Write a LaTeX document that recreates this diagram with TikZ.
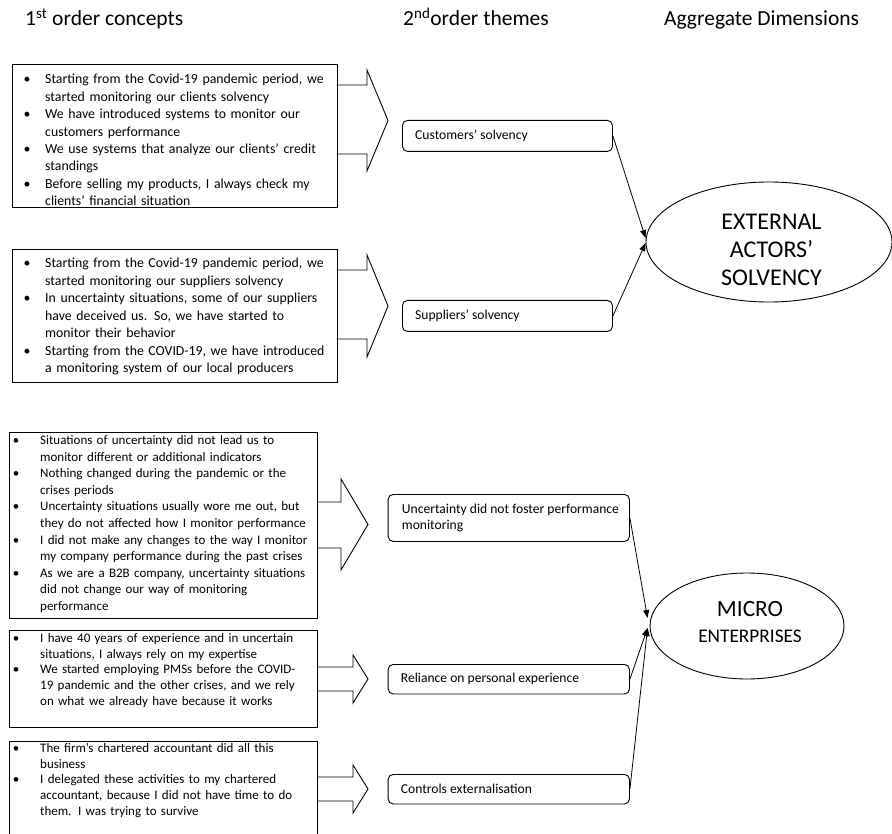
\documentclass[tikz,border=0pt]{standalone}
\usepackage{fontspec}
\setmainfont{Carlito}
\usetikzlibrary{shapes.geometric,arrows.meta,calc}
\newcommand\bulA{\makebox[21.5pt][l]{\textbullet}}
\newcommand\indA{\hspace*{21.5pt}}
\newcommand\bulB{\makebox[27.3pt][l]{\textbullet}}
\newcommand\indB{\hspace*{27.3pt}}
\begin{document}
\begin{tikzpicture}[x=1pt,y=-1pt,
  conbox/.style={draw,line width=0.9pt,rectangle,inner sep=0pt,anchor=north west},
  bigtext/.style={anchor=base west,inner sep=0pt,text width=330pt,align=left,font=\fontsize{13.8}{17.4}\selectfont},
  smalltext/.style={anchor=base west,inner sep=0pt,text width=330pt,align=left,font=\fontsize{13.0}{15.7}\selectfont},
  themebox/.style={draw,line width=0.9pt,rounded corners=5pt,inner sep=0pt,anchor=north west},
  themetext/.style={anchor=west,inner sep=0pt,align=left,font=\fontsize{13.6}{16}\selectfont},
  dimell/.style={draw,line width=0.9pt,ellipse,inner sep=0pt},
  blockarrow/.style={draw,line width=0.9pt,line join=miter},
  conn/.style={draw,line width=0.8pt,-{Triangle[length=8pt,width=6pt]}},
  heading/.style={anchor=base west,inner sep=0pt,font=\fontsize{21.5}{26}\selectfont}
]
\begin{scope}
\clip (0,0) rectangle (892,834);

% headings
\node[heading] (h1) at (25,26) {1\textsuperscript{st} order concepts};
\node[heading] (h2) at (403,26) {2\textsuperscript{nd}order themes};
\node[heading] (h3) at (664,26) {Aggregate Dimensions};

% first order concept boxes
\node[conbox,minimum width=324.4pt,minimum height=143pt] (c1) at (12.3,64.3) {};
\node[bigtext] (t1) at (23.5,84) {%
\bulA Starting from the Covid-19 pandemic period, we\\
\indA started monitoring our clients solvency\\
\bulA We have introduced systems to monitor our\\
\indA customers performance\\
\bulA We use systems that analyze our clients’ credit\\
\indA standings\\
\bulA Before selling my products, I always check my\\
\indA clients’ financial situation};

\node[conbox,minimum width=324.4pt,minimum height=132.4pt] (c2) at (12.3,249.3) {};
\node[bigtext,font=\fontsize{13.8}{17.5}\selectfont] (t2) at (23.5,268) {%
\bulA Starting from the Covid-19 pandemic period, we\\
\indA started monitoring our suppliers solvency\\
\bulA In uncertainty situations, some of our suppliers\\
\indA have deceived us. So, we have started to\\
\indA monitor their behavior\\
\bulA Starting from the COVID-19, we have introduced\\
\indA a monitoring system of our local producers};

\node[conbox,minimum width=308pt,minimum height=185.4pt] (c3) at (9,432.3) {};
\node[smalltext,font=\fontsize{13.0}{16.6}\selectfont] (t3) at (12.7,444.5) {%
\bulB Situations of uncertainty did not lead us to\\
\indB monitor different or additional indicators\\
\bulB Nothing changed during the pandemic or the\\
\indB crises periods\\
\bulB Uncertainty situations usually wore me out, but\\
\indB they do not affected how I monitor performance\\
\bulB I did not make any changes to the way I monitor\\
\indB my company performance during the past crises\\
\bulB As we are a B2B company, uncertainty situations\\
\indB did not change our way of monitoring\\
\indB performance};

\node[conbox,minimum width=308pt,minimum height=97pt] (c4) at (9,630) {};
\node[smalltext] (t4) at (12.7,642.5) {%
\bulB I have 40 years of experience and in uncertain\\
\indB situations, I always rely on my expertise\\
\bulB We started employing PMSs before the COVID-\\
\indB 19 pandemic and the other crises, and we rely\\
\indB on what we already have because it works};

\node[conbox,minimum width=308pt,minimum height=100pt] (c5) at (9,741) {};
\node[smalltext] (t5) at (12.7,752.5) {%
\bulB The firm’s chartered accountant did all this\\
\indB business\\
\bulB I delegated these activities to my chartered\\
\indB accountant, because I did not have time to do\\
\indB them. I was trying to survive};

% block arrows
\draw[blockarrow] (336.7,85) -- (367,85) -- (367,70) -- (388,120.5) -- (367,171) -- (367,154) -- (336.7,154);
\draw[blockarrow] (336.7,270) -- (367,270) -- (367,255) -- (388,306) -- (367,357) -- (367,339) -- (336.7,339);
\draw[blockarrow] (317,502) -- (341,502) -- (341,479) -- (368,524.5) -- (341,570) -- (341,548) -- (317,548);
\draw[blockarrow] (317,667) -- (353,667) -- (353,655) -- (368,679) -- (353,703) -- (353,691) -- (317,691);
\draw[blockarrow] (317,777) -- (353,777) -- (353,765) -- (368,789) -- (353,813) -- (353,801) -- (317,801);

% second order themes
\node[themebox,minimum width=210pt,minimum height=31pt] (cust) at (402,120) {};
\node[themetext] (custt) at ([xshift=13pt]cust.west) {Customers’ solvency};
\node[themebox,minimum width=210pt,minimum height=31pt] (supp) at (402,300) {};
\node[themetext] (suppt) at ([xshift=13pt]supp.west) {Suppliers’ solvency};
\node[themebox,minimum width=241.3pt,minimum height=47pt] (unc) at (387.7,494) {};
\node[themetext] (unct) at ([xshift=14pt]unc.west) {Uncertainty did not foster performance\\monitoring};
\node[themebox,minimum width=241.3pt,minimum height=29.5pt] (rel) at (387.7,664) {};
\node[themetext] (relt) at ([xshift=13pt]rel.west) {Reliance on personal experience};
\node[themebox,minimum width=241.3pt,minimum height=29.5pt] (ctl) at (387.7,774) {};
\node[themetext] (ctlt) at ([xshift=13pt]ctl.west) {Controls externalisation};

% aggregate dimensions
\node[dimell,minimum width=246pt,minimum height=120pt] (ext) at (769,242) {};
\node[inner sep=0pt,align=center,font=\fontsize{24}{28}\selectfont] (extt) at (771.5,250) {EXTERNAL\\ACTORS’\\SOLVENCY};
\node[dimell,minimum width=194pt,minimum height=106pt] (mic) at (747,626) {};
\node[inner sep=0pt,align=center,font=\fontsize{23.3}{25.5}\selectfont] (mict) at (750,622) {MICRO\\{\fontsize{19.3}{25.5}\selectfont ENTERPRISES}};

% connectors
\draw[conn] (cust.east) -- ([yshift=4pt]ext.west);
\draw[conn] (supp.east) -- ([yshift=-1pt]ext.west);
\draw[conn] (unc.east) -- ([xshift=-2pt,yshift=8pt]mic.west);
\draw[conn] (rel.east) -- ([xshift=-2pt,yshift=-2pt]mic.west);
\draw[conn] (ctl.east) -- ([xshift=-2pt,yshift=-2pt]mic.west);
\end{scope}
\pgfresetboundingbox
\useasboundingbox (0,0) rectangle (892,834);
\end{tikzpicture}
\end{document}
